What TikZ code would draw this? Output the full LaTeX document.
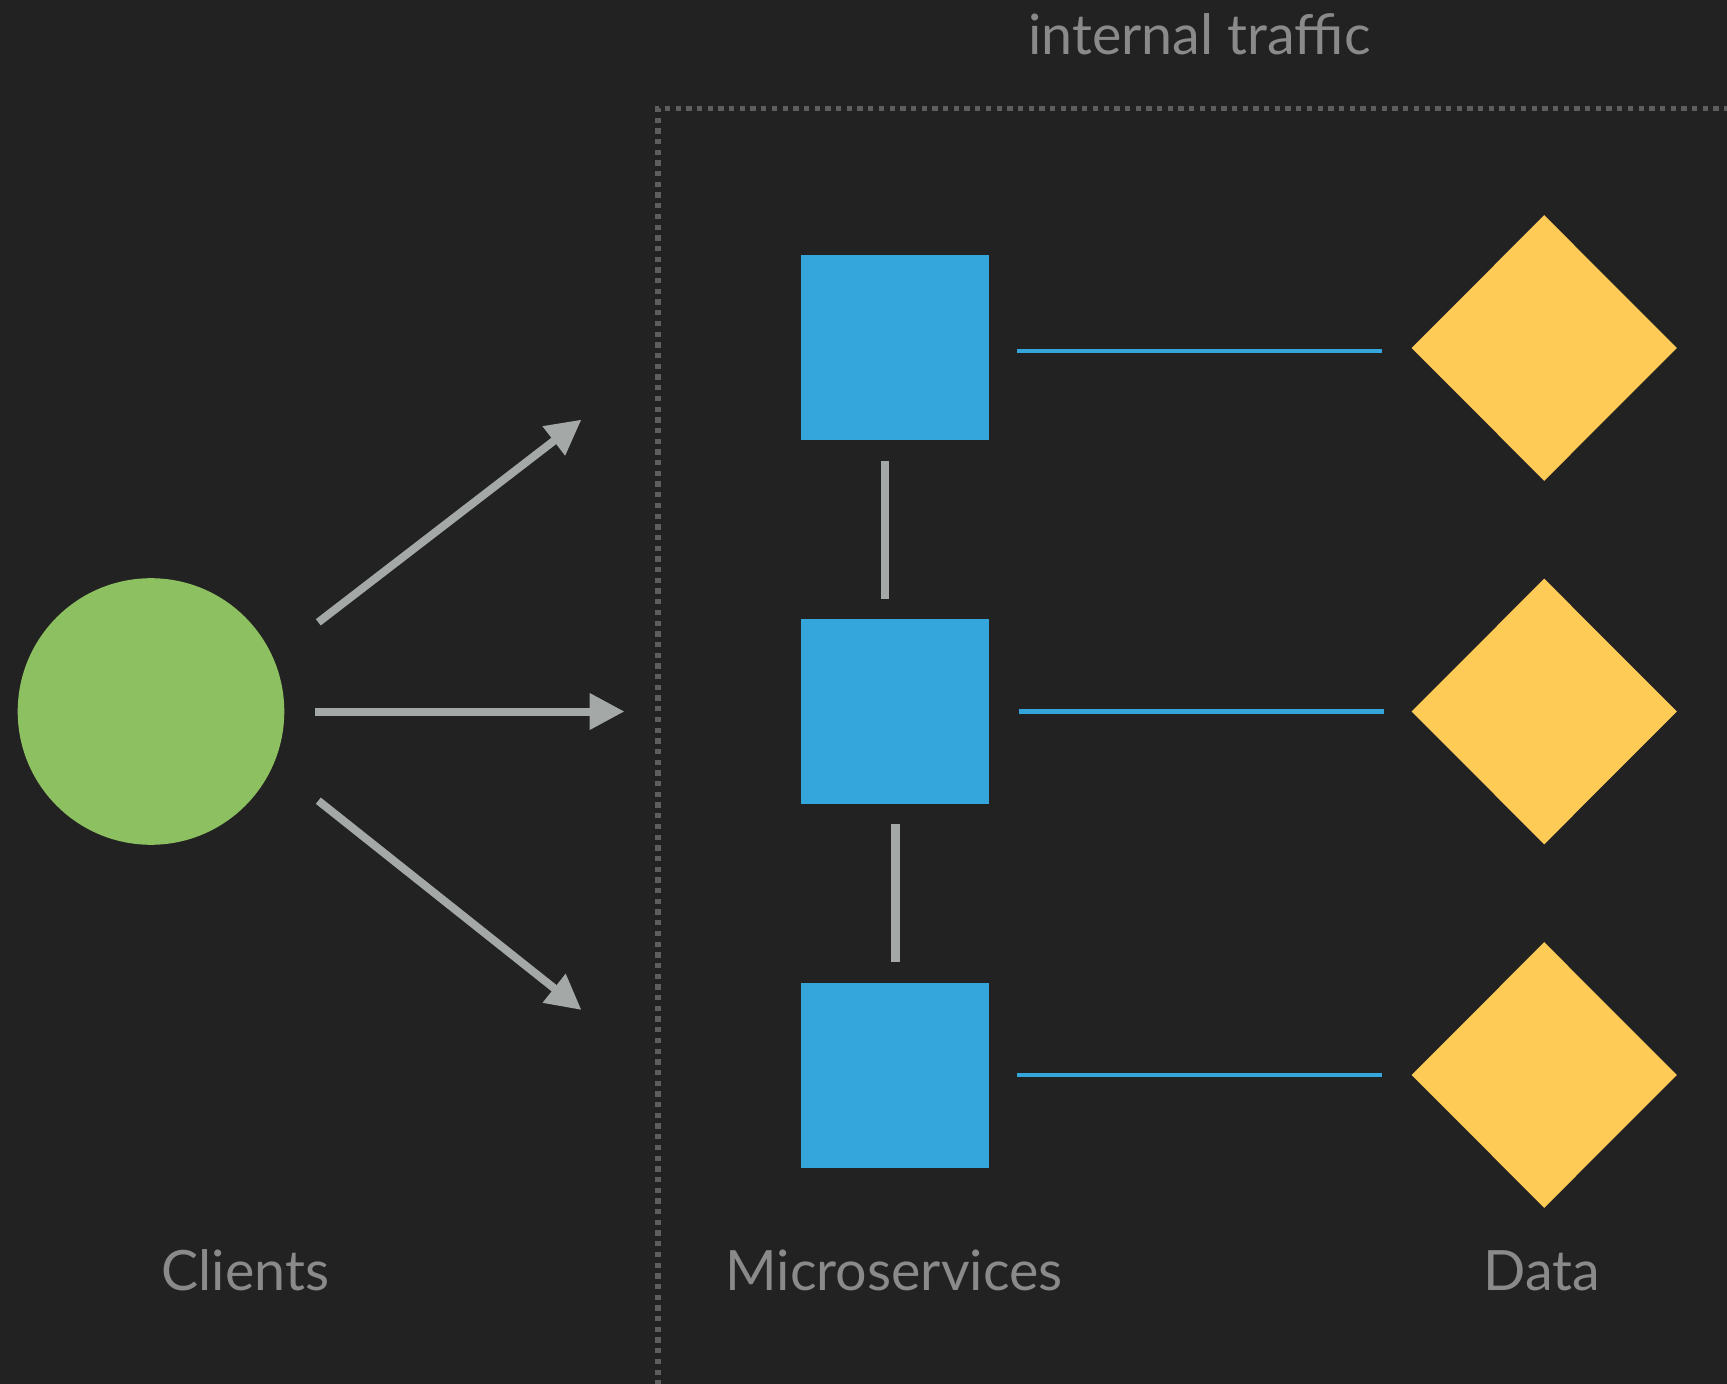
\documentclass[tikz,border=0pt]{standalone}
\usepackage{fontspec}
\setmainfont{Lato}
\usetikzlibrary{arrows.meta,shapes.geometric,calc}
\definecolor{bgcol}{HTML}{222222}
\definecolor{svcblue}{HTML}{34A6DB}
\definecolor{clientgreen}{HTML}{8DC060}
\definecolor{datayellow}{HTML}{FFCB57}
\definecolor{linkgray}{HTML}{A4A8A6}
\definecolor{labelgray}{HTML}{8A8A8A}
\definecolor{framegray}{HTML}{605E5C}
\tikzset{
  client/.style={circle, fill=clientgreen, minimum size=133.3pt, inner sep=0pt},
  service/.style={rectangle, fill=svcblue, minimum width=94.2pt, minimum height=92.5pt, inner sep=0pt},
  store/.style={diamond, fill=datayellow, minimum width=132.7pt, minimum height=133pt, inner sep=0pt},
  request/.style={draw=linkgray, line width=4pt, -{Triangle[length=17.5pt,width=17.4pt]}},
  peer/.style={draw=linkgray, line width=4.15pt},
  dataline/.style={draw=svcblue, line width=2.2pt},
  caption/.style={text=labelgray, font=\fontsize{27.8}{33}\selectfont, anchor=base, inner sep=0pt},
  zone/.style={draw=framegray, line width=2.65pt, dash pattern=on 2.65pt off 2.7pt}
}
\begin{document}
\begin{tikzpicture}[x=0.5pt,y=-0.5pt]
  % canvas
  \fill[bgcol] (0,0) rectangle (1727,1384);
  \useasboundingbox (0,0) rectangle (1727,1384);

  % internal zone
  \draw[zone] (658,1385.5) -- (658,108.3) -- (1760,108.3);
  \node[caption] (internal) at (1199.5,55) {internal traffic};

  % clients
  \node[client] (client) at (151,711.5) {};

  % microservices
  \node[service] (s1) at (894.9,348) {};
  \node[service] (s2) at (894.9,711.5) {};
  \node[service] (s3) at (894.9,1075) {};

  % data stores
  \node[store] (d1) at (1544.2,348) {};
  \node[store] (d2) at (1544.2,711.5) {};
  \node[store] (d3) at (1544.2,1075) {};

  % client requests
  \coordinate (r1s) at (318.3,622.3);
  \coordinate (r1e) at (581.5,419.6);
  \coordinate (r2s) at (315,711.5);
  \coordinate (r2e) at (624.5,711.5);
  \coordinate (r3s) at (318.3,800.7);
  \coordinate (r3e) at (581.5,1010);
  \draw[request] (r1s) -- (r1e);
  \draw[request] (r2s) -- (r2e);
  \draw[request] (r3s) -- (r3e);

  % service-to-service links
  \draw[peer] ($(s1.south)+(-9.7,19.8)$) -- ($(s2.north)+(-9.7,-19.8)$);
  \draw[peer] ($(s2.south)+(0.5,19.8)$) -- ($(s3.north)+(0.5,-19.8)$);

  % service-to-data links
  \draw[dataline] ($(s1.east)+(27.6,3.3)$) -- ($(d1.west)+(-29.2,3.3)$);
  \draw[dataline] ($(s2.east)+(29.8,0)$) -- ($(d2.west)+(-27,0)$);
  \draw[dataline] ($(s3.east)+(27.6,0)$) -- ($(d3.west)+(-29.2,0)$);

  % column captions
  \node[caption] (clients) at (245.5,1290) {Clients};
  \node[caption] (services) at (894,1290) {Microservices};
  \node[caption] (data) at (1542,1290) {Data};
\end{tikzpicture}
\end{document}
